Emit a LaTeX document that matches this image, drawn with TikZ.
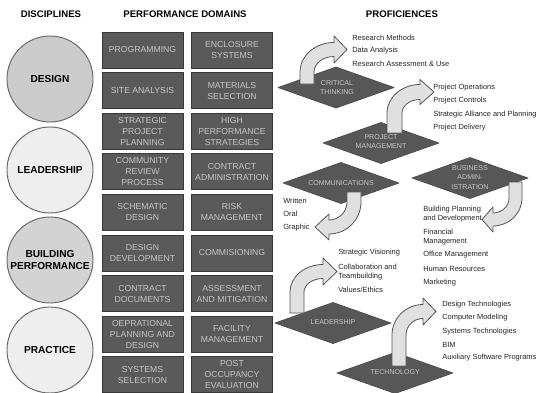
\documentclass[tikz,border=0pt]{standalone}
\usepackage{fontspec}
\setmainfont{Liberation Sans}
\definecolor{boxfill}{HTML}{5A5A5A}
\definecolor{boxline}{HTML}{383838}
\definecolor{boxtext}{HTML}{C6C6C6}
\definecolor{dmfill}{HTML}{575757}
\definecolor{arrfill}{HTML}{E0E0E0}
\definecolor{arrline}{HTML}{555555}
\definecolor{circA}{HTML}{CBCBCB}
\definecolor{circB}{HTML}{EEEEEE}
\definecolor{circC}{HTML}{D3D3D3}
\tikzset{
  domainbox/.style={draw=boxline, fill=boxfill, line width=0.6pt, minimum width=60.75pt, minimum height=27pt, inner sep=0pt, align=center, text=boxtext, font=\fontsize{6.5}{8.2}\selectfont},
  disc/.style={circle, draw=black!60, line width=0.7pt, minimum size=64.5pt, inner sep=0pt, align=center, font=\bfseries\fontsize{7.6}{9}\selectfont},
  header/.style={font=\bfseries\fontsize{7.2}{8}\selectfont, inner sep=0pt},
  dmtext/.style={text=boxtext, align=center, inner sep=0pt, font=\fontsize{5.3}{6.8}\selectfont},
  item/.style={anchor=west, inner sep=0pt, align=left, font=\fontsize{5.6}{6.8}\selectfont, text=black!85},
  bentarrow/.style={fill=arrfill, draw=arrline, line width=0.6pt, line join=round},
  dmshape/.style={fill=dmfill, draw=black!70, line width=0.5pt, line join=round}
}
\newcommand\dmd[2]{\draw[dmshape] ({#1-58},{#2}) -- ({#1},{#2-20.5}) -- ({#1+58},{#2}) -- ({#1},{#2+20.5}) -- cycle;}
% up-right bent arrow: x0, yb, w, xb, yc, hh, hl, yk
\newcommand\arrUR[8]{%
\pgfmathsetmacro\aXo{#1}%
\pgfmathsetmacro\aXi{#1+#3}%
\pgfmathsetmacro\aYt{#5-#3/2}%
\pgfmathsetmacro\aYb{#5+#3/2}%
\pgfmathsetmacro\aCoy{#8-0.552*(#8-\aYt)}%
\pgfmathsetmacro\aCox{#4-0.552*(#4-#1)}%
\pgfmathsetmacro\aCiy{#8-0.552*(#8-\aYb)}%
\pgfmathsetmacro\aCix{#4-0.552*(#4-\aXi)}%
\pgfmathsetmacro\aHt{#5-#6}%
\pgfmathsetmacro\aHb{#5+#6}%
\pgfmathsetmacro\aTip{#4+#7}%
\draw[bentarrow] (\aXo,#2) -- (\aXo,#8) .. controls (\aXo,\aCoy) and (\aCox,\aYt) .. (#4,\aYt) -- (#4,\aHt) -- (\aTip,#5) -- (#4,\aHb) -- (#4,\aYb) .. controls (\aCix,\aYb) and (\aXi,\aCiy) .. (\aXi,#8) -- (\aXi,#2) -- cycle;}
% down-left bent arrow: xl, ytop, w, xb, yc, hh, hl, yk
\newcommand\arrDL[8]{%
\pgfmathsetmacro\aXl{#1}%
\pgfmathsetmacro\aXr{#1+#3}%
\pgfmathsetmacro\aYtt{#5-#3/2}%
\pgfmathsetmacro\aYbb{#5+#3/2}%
\pgfmathsetmacro\aCoy{#8+0.552*(\aYbb-#8)}%
\pgfmathsetmacro\aCox{#4+0.552*(\aXr-#4)}%
\pgfmathsetmacro\aCiy{#8+0.552*(\aYtt-#8)}%
\pgfmathsetmacro\aCix{#4+0.552*(\aXl-#4)}%
\pgfmathsetmacro\aHt{#5-#6}%
\pgfmathsetmacro\aHb{#5+#6}%
\pgfmathsetmacro\aTip{#4-#7}%
\draw[bentarrow] (\aXl,#2) -- (\aXr,#2) -- (\aXr,#8) .. controls (\aXr,\aCoy) and (\aCox,\aYbb) .. (#4,\aYbb) -- (#4,\aHb) -- (\aTip,#5) -- (#4,\aHt) -- (#4,\aYtt) .. controls (\aCix,\aYtt) and (\aXl,\aCiy) .. (\aXl,#8) -- cycle;}
\begin{document}
\begin{tikzpicture}[x=0.75pt,y=-0.75pt]
\fill[white] (0,0) rectangle (536,393);
\useasboundingbox (0,0) rectangle (536,393);
% headers
\node[header] (h1) at (51,14) {DISCIPLINES};
\node[header] (h2) at (185,14) {PERFORMANCE DOMAINS};
\node[header] (h3) at (402,14) {PROFICIENCES};
% disciplines
\node[disc, fill=circA] (design) at (50,79) {DESIGN};
\node[disc, fill=circB] (leadership) at (50,170) {LEADERSHIP};
\node[disc, fill=circC] (building) at (50,260) {BUILDING\\PERFORMANCE};
\node[disc, fill=circB] (practice) at (50,350) {PRACTICE};
% performance domains
\node[domainbox] (a1) at (142.5,50) {PROGRAMMING};
\node[domainbox] (b1) at (232,50) {ENCLOSURE\\SYSTEMS};
\node[domainbox] (a2) at (142.5,90.6) {SITE ANALYSIS};
\node[domainbox] (b2) at (232,90.6) {MATERIALS\\SELECTION};
\node[domainbox] (a3) at (142.5,131.2) {STRATEGIC\\PROJECT\\PLANNING};
\node[domainbox] (b3) at (232,131.2) {HIGH\\PERFORMANCE\\STRATEGIES};
\node[domainbox] (a4) at (142.5,171.8) {COMMUNITY\\REVIEW\\PROCESS};
\node[domainbox] (b4) at (232,171.8) {CONTRACT\\ADMINISTRATION};
\node[domainbox] (a5) at (142.5,212.4) {SCHEMATIC\\DESIGN};
\node[domainbox] (b5) at (232,212.4) {RISK\\MANAGEMENT};
\node[domainbox] (a6) at (142.5,253) {DESIGN\\DEVELOPMENT};
\node[domainbox] (b6) at (232,253) {COMMISIONING};
\node[domainbox] (a7) at (142.5,293.6) {CONTRACT\\DOCUMENTS};
\node[domainbox] (b7) at (232,293.6) {ASSESSMENT\\AND MITIGATION};
\node[domainbox] (a8) at (142.5,334.2) {OEPRATIONAL\\PLANNING AND\\DESIGN};
\node[domainbox] (b8) at (232,334.2) {FACILITY\\MANAGEMENT};
\node[domainbox] (a9) at (142.5,374.8) {SYSTEMS\\SELECTION};
\node[domainbox] (b9) at (232,374.8) {POST\\OCCUPANCY\\EVALUATION};
% diamonds
\dmd{336}{87.5}
\dmd{381}{143}
\dmd{341}{183}
\dmd{470}{178}
\dmd{333}{323}
\dmd{395}{373}
% bent arrows
\arrUR{300}{84}{14}{334}{49.5}{13.5}{13}{72}
\arrUR{387}{133}{15}{420}{92}{12.5}{14}{113}
\arrDL{347}{192}{14}{329}{227}{13}{14}{202}
\arrDL{509}{182}{13}{493}{219.5}{12.5}{11}{198}
\arrUR{290}{313}{14}{323}{271.5}{13.5}{14}{292}
\arrUR{392}{366}{14}{423}{311.5}{13.5}{13}{335}
% diamond labels
\node[dmtext] (ct) at (337,87.5) {CRITICAL\\THINKING};
\node[dmtext] (pm) at (381,142) {PROJECT\\MANAGEMENT};
\node[dmtext] (cm) at (341,183) {COMMUNICATIONS};
\node[dmtext] (ba) at (470,177.5) {BUSINESS\\ADMIN-\\ISTRATION};
\node[dmtext] (ld) at (333,322.5) {LEADERSHIP};
\node[dmtext] (tc) at (395,372.5) {TECHNOLOGY};
% proficiency items
\node[item] (i1) at (352,38) {Research Methods};
\node[item] (i2) at (352,51) {Data Analysis};
\node[item] (i3) at (352,64) {Research Assessment \& Use};
\node[item] (i4) at (433,88) {Project Operations};
\node[item] (i5) at (433,101) {Project Controls};
\node[item] (i6) at (433,115) {Strategic Alliance and Planning};
\node[item] (i7) at (433,128) {Project Delivery};
\node[item] (i8) at (283,201) {Written};
\node[item] (i9) at (283,214) {Oral};
\node[item] (i10) at (283,228) {Graphic};
\node[item] (i11) at (423,214.5) {Building Planning\\and Development};
\node[item] (i12) at (423,237) {Financial\\Management};
\node[item] (i13) at (423,255) {Office Management};
\node[item] (i14) at (423,269) {Human Resources};
\node[item] (i15) at (423,283) {Marketing};
\node[item] (i16) at (338,253) {Strategic Visioning};
\node[item] (i17) at (338,272.5) {Collaboration and\\Teambuilding};
\node[item] (i18) at (338,290) {Values/Ethics};
\node[item] (i19) at (442,305) {Design Technologies};
\node[item] (i20) at (442,318) {Computer Modeling};
\node[item] (i21) at (442,332) {Systems Technologies};
\node[item] (i22) at (442,345) {BIM};
\node[item] (i23) at (442,358) {Auxiliary Software Programs};
\end{tikzpicture}
\end{document}
